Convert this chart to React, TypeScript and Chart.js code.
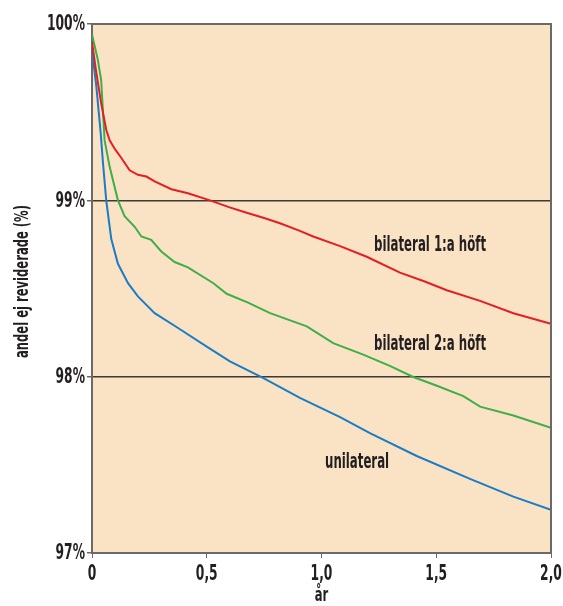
import React, { useEffect, useRef } from "react";
import { Chart, registerables } from "chart.js";

Chart.register(...registerables);

// Bilateral 1:a höft (red)
const redX = [0, 0.017, 0.04, 0.062, 0.077, 0.1, 0.128, 0.164, 0.2, 0.237, 0.273, 0.346, 0.418, 0.514, 0.6, 0.674, 0.75, 0.819, 0.9, 0.964, 1.081, 1.197, 1.342, 1.45, 1.546, 1.691, 1.836, 2.0];
const redY = [99.9, 99.74, 99.55, 99.4, 99.34, 99.29, 99.24, 99.17, 99.145, 99.135, 99.107, 99.063, 99.04, 99.0, 98.96, 98.93, 98.9, 98.87, 98.83, 98.795, 98.74, 98.68, 98.59, 98.54, 98.49, 98.43, 98.36, 98.3];

// Bilateral 2:a höft (green)
const greenX = [0, 0.025, 0.04, 0.055, 0.077, 0.113, 0.142, 0.186, 0.215, 0.258, 0.302, 0.36, 0.418, 0.529, 0.587, 0.68, 0.776, 0.936, 1.051, 1.182, 1.3, 1.4, 1.5, 1.618, 1.691, 1.836, 2.0];
const greenY = [99.94, 99.8, 99.68, 99.34, 99.19, 99.0, 98.91, 98.85, 98.795, 98.776, 98.71, 98.65, 98.62, 98.53, 98.47, 98.42, 98.36, 98.285, 98.19, 98.125, 98.06, 97.998, 97.95, 97.89, 97.83, 97.78, 97.71];

// Unilateral (blue)
const blueX = [0, 0.019, 0.038, 0.048, 0.062, 0.084, 0.113, 0.157, 0.2, 0.273, 0.375, 0.5, 0.601, 0.743, 0.906, 1.081, 1.211, 1.415, 1.647, 1.836, 2.0];
const blueY = [99.85, 99.645, 99.38, 99.21, 99.0, 98.78, 98.64, 98.53, 98.455, 98.36, 98.276, 98.17, 98.087, 97.995, 97.88, 97.77, 97.68, 97.55, 97.42, 97.32, 97.245];

const seriesNames = ["bilateral 1:a höft", "bilateral 2:a höft", "unilateral"];
const labelX = [1.473, 1.473, 1.155];
const labelY = [98.714, 98.153, 97.482];

const xTicks = [0, 0.5, 1.0, 1.5, 2.0];
const xTickLabels = ["0", "0,5", "1,0", "1,5", "2,0"];
const yTicks = [97, 98, 99, 100];
const yTickLabels = ["97%", "98%", "99%", "100%"];
const xTitle = "år";
const yTitle = "andel ej reviderade (%)";

const FONT = "'DejaVu Sans Condensed', 'DejaVu Sans', sans-serif";
const TEXT = "#231f20";

const zip = (xs: number[], ys: number[]) => xs.map((x, i) => ({ x, y: ys[i] }));

function fitFactor(ctx: any, size: number, sample: string, width: number) {
  ctx.save();
  ctx.font = `bold ${size}px ${FONT}`;
  const w = ctx.measureText(sample).width;
  ctx.restore();
  return w > 0 ? width / w : 1;
}

function squeezedText(ctx: any, text: string, x: number, y: number, size: number, align: string, baseline: string, f: number, rot = 0) {
  ctx.save();
  ctx.translate(x, y);
  if (rot) ctx.rotate(rot);
  ctx.scale(f, 1);
  ctx.font = `bold ${size}px ${FONT}`;
  ctx.fillStyle = TEXT;
  ctx.textAlign = align;
  ctx.textBaseline = baseline;
  ctx.fillText(text, 0, 0);
  ctx.restore();
}

const textPlugin = {
  id: "textPlugin",
  beforeDraw(chart: any) {
    const { ctx, chartArea: a } = chart;
    ctx.save();
    ctx.fillStyle = "#fae3c5";
    ctx.fillRect(a.left, a.top, a.right - a.left, a.bottom - a.top);
    ctx.restore();
  },
  afterDraw(chart: any) {
    const { ctx, chartArea: a, scales } = chart;
    ctx.save();
    ctx.strokeStyle = "#6d6a66";
    ctx.lineWidth = 2;
    ctx.beginPath();
    ctx.moveTo(a.left, a.top);
    ctx.lineTo(a.right, a.top);
    ctx.lineTo(a.right, a.bottom);
    ctx.stroke();
    ctx.restore();

    const fTick = fitFactor(ctx, 21, "100%", 38);
    const fAnn = fitFactor(ctx, 22, "bilateral 1:a höft", 112);
    const fTitle = fitFactor(ctx, 19, yTitle, 153);

    yTicks.forEach((v, i) => {
      squeezedText(ctx, yTickLabels[i], a.left - 7, scales.y.getPixelForValue(v) + 1, 21, "right", "middle", fTick);
    });
    xTicks.forEach((v, i) => {
      squeezedText(ctx, xTickLabels[i], scales.x.getPixelForValue(v), a.bottom + 27, 21, "center", "alphabetic", fTick);
    });
    squeezedText(ctx, xTitle, (a.left + a.right) / 2, a.bottom + 48, 19, "center", "alphabetic", fTitle);
    squeezedText(ctx, yTitle, 23, (a.top + a.bottom) / 2 - 7, 19, "center", "middle", fTitle, -Math.PI / 2);

    seriesNames.forEach((n, i) => {
      squeezedText(ctx, n, scales.x.getPixelForValue(labelX[i]), scales.y.getPixelForValue(labelY[i]), 22, "center", "alphabetic", fAnn);
    });
  },
};

export default function App() {
  const ref = useRef<HTMLCanvasElement | null>(null);
  useEffect(() => {
    document.body.style.margin = "0";
    if (!ref.current) return;
    const chart = new Chart(ref.current, {
      type: "line",
      data: {
        datasets: [
          { label: seriesNames[0], data: zip(redX, redY), borderColor: "#e31e24", borderWidth: 2, pointRadius: 0, tension: 0 },
          { label: seriesNames[1], data: zip(greenX, greenY), borderColor: "#3fae49", borderWidth: 2, pointRadius: 0, tension: 0 },
          { label: seriesNames[2], data: zip(blueX, blueY), borderColor: "#1b7cc4", borderWidth: 2, pointRadius: 0, tension: 0 },
        ],
      },
      options: {
        animation: false,
        responsive: false,
        layout: { padding: { top: 24, right: 12, left: 0, bottom: 0 } },
        plugins: { legend: { display: false }, tooltip: { enabled: false } },
        scales: {
          x: {
            type: "linear",
            min: 0,
            max: 2,
            afterBuildTicks: (s: any) => { s.ticks = xTicks.map((v) => ({ value: v })); },
            afterFit: (s: any) => { s.height = 53; s.paddingLeft = 0; s.paddingRight = 0; },
            ticks: { display: false },
            grid: { drawOnChartArea: false, tickLength: 5, color: "#6d6a66", tickColor: "#6d6a66" },
            border: { color: "#6d6a66", width: 2 },
          },
          y: {
            type: "linear",
            min: 97,
            max: 100,
            afterBuildTicks: (s: any) => { s.ticks = yTicks.map((v) => ({ value: v })); },
            afterFit: (s: any) => { s.width = 92; s.paddingTop = 0; s.paddingBottom = 0; },
            ticks: { display: false },
            grid: {
              tickLength: 5,
              color: (c: any) => (c.tick && (c.tick.value === 98 || c.tick.value === 99) ? "#3d3935" : "rgba(0,0,0,0)"),
              tickColor: "#6d6a66",
              lineWidth: 1.5,
            },
            border: { color: "#6d6a66", width: 2 },
          },
        },
      },
      plugins: [textPlugin],
    });
    return () => chart.destroy();
  }, []);
  return <canvas ref={ref} width={563} height={606} style={{ display: "block" }} />;
}
